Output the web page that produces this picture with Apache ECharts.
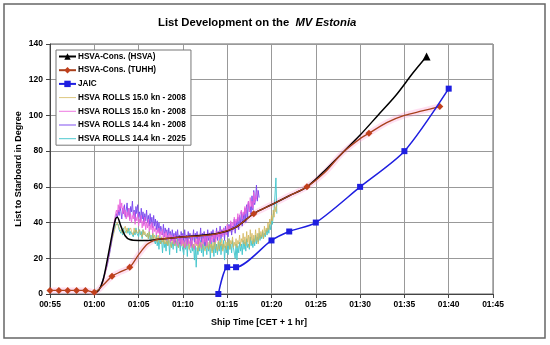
<!DOCTYPE html>
<html><head><meta charset="utf-8">
<script src="https://cdn.jsdelivr.net/npm/echarts@6/dist/echarts.min.js"></script>
<style>html,body{margin:0;padding:0;background:#fff}#c{width:550px;height:345px}</style>
</head><body><div id="c"></div>
<script>
// ---- tick labels (minutes after 00:00, CET + 1 hr) ----
const timeTicks = [55, 60, 65, 70, 75, 80, 85, 90, 95, 100, 105];
const timeTickLabels = ['00:55','01:00','01:05','01:10','01:15','01:20','01:25','01:30','01:35','01:40','01:45'];

// ---- HSVA-Cons. (HSVA) ----
const hsvaTime = [60.0, 60.5, 61.0, 61.5, 62.0, 62.4, 62.6, 63.0, 63.5, 64.0, 65.0, 66.0, 67.0, 70.0, 74.0, 76.0, 78.0, 80.0, 82.0, 84.0, 86.0, 88.0, 90.0, 92.0, 94.0, 96.0, 97.5];
const hsvaList = [0.5, 2, 8, 20, 33, 42, 43, 38, 32.5, 30.5, 30, 30, 30.5, 32, 34, 37.5, 45, 50, 55, 60, 69, 79, 89, 100, 111, 124, 133];
const hsvaMarked = [0,0,0,0,0,0,0,0,0,0,0,0,0,0,0,0,0,0,0,0,0,0,0,0,0,0,1];

// ---- HSVA-Cons. (TUHH) ----
const tuhhTime = [55, 56, 57, 58, 59, 60, 61, 62, 63, 64, 65, 66, 67, 68, 70, 72, 74, 76, 78, 80, 82, 84, 86, 88, 90, 91, 93, 95, 97, 99];
const tuhhList = [2, 2, 2, 2, 2, 1, 5, 10, 12.5, 15, 22, 28, 30.5, 31, 32, 32.5, 34, 37.5, 45, 50, 55, 60, 68, 79, 87, 90, 96, 100, 102.5, 105];
const tuhhMarked = [1,1,1,1,1,1,0,1,0,1,0,0,0,0,0,0,0,0,1,0,0,1,0,0,0,1,0,0,0,1];

// ---- JAIC ----
const jaicTime = [74, 75, 76, 80, 82, 85, 90, 95, 100];
const jaicList = [0, 15, 15, 30, 35, 40, 60, 80, 115];

// ---- HSVA ROLLS records (sampled every 0.1 min) ----
const rolls1Start = 60.0, rolls1Step = 0.1;   // 15.0 kn - 2008 (tan)
const rolls1List = [
  1,2,1,2,2,3,3,4,5,6, 7,9,11,13,15,17,20,22,25,27, 30,32,34,36,38,39,40,38,37,36,
  35,37,34,36,35,38,34,37,35,36, 34,37,35,36,33,37,34,36,35,34, 33,36,34,35,32,36,33,35,34,32,
  34,31,35,32,33,30,34,31,33,30, 32,29,33,30,31,28,32,29,31,28, 32,28,30,27,31,29,30,26,31,28,
  30,27,32,28,29,26,31,28,30,27, 31,27,29,26,30,28,31,25,29,27, 30,26,28,25,31,27,29,24,30,26,
  29,25,31,27,28,24,30,26,29,25, 30,26,28,23,29,25,31,27,28,24, 30,25,29,27,31,24,28,26,30,25,
  29,27,31,25,30,28,32,26,29,27, 31,26,30,28,33,27,31,29,34,28, 32,27,35,29,33,26,36,30,34,28,
  33,29,36,30,34,28,37,31,35,32, 36,31,38,33,37,35,40,36,42,39, 44,41,47,43,49,46,50];
const rolls2Start = 60.5, rolls2Step = 0.1;   // 15.0 kn - 2008 (pink)
const rolls2List = [
  2,2,3,4,6,7,9,11,13,16, 18,21,24,27,30,33,36,39,42,45, 47,44,50,46,53,48,51,45,49,44,
  47,42,46,43,48,41,45,40,44,42, 46,39,43,41,45,38,42,40,44,37, 41,38,43,36,40,37,42,35,39,36,
  40,34,38,35,37,33,36,34,37,32, 35,33,36,31,34,32,35,30,33,31, 34,29,33,30,32,28,33,30,31,27,
  32,29,31,27,33,28,30,26,31,29, 27,31,28,30,26,32,28,29,25,30, 28,31,27,32,29,30,26,31,28,33,
  29,32,27,31,30,33,28,32,29,34, 31,33,29,35,32,34,30,36,33,35, 32,37,34,36,33,39,35,38,36,41,
  37,40,38,43,39,42,40,45,41,44, 43,47,42,46,44,49,45,48,47,52, 46,54,49,52,48,57,51,55,53,58];
const rolls3Start = 60.3, rolls3Step = 0.1;   // 14.4 kn - 2008 (purple)
const rolls3List = [
  1,2,2,3,4,5,7,8,10,12, 13,15,17,20,22,25,28,31,34,37, 40,42,45,43,47,44,49,46,42,48,
  45,50,43,47,51,44,48,42,49,46, 52,44,47,41,49,45,50,43,46,40, 48,42,46,39,45,41,47,40,44,38,
  45,39,43,37,44,38,42,36,41,35, 40,34,38,36,33,39,32,37,34,36, 31,37,33,35,30,36,32,34,29,35,
  31,36,30,33,28,35,31,34,29,36, 30,33,28,35,31,34,27,33,30,36, 29,34,31,35,28,33,30,37,29,34,
  31,35,27,33,29,36,30,34,28,35, 32,36,29,34,31,37,30,35,32,38, 31,36,33,37,30,38,34,36,32,39,
  35,40,33,38,36,42,34,41,37,43, 36,44,39,46,38,45,41,48,40,50, 43,52,46,49,44,55,47,58,50,53,
  61,52,58,54];
const rolls4Start = 60.0, rolls4Step = 0.1;   // 14.4 kn - 2025 (cyan)
const rolls4List = [
  2,1,2,2,3,2,3,4,5,6, 8,10,12,14,16,18,21,23,26,28, 31,33,35,37,39,40,38,39,36,37,
  34,36,33,37,34,35,33,36,34,37, 33,35,34,36,32,35,33,37,34,35, 32,36,33,35,31,36,34,33,35,32,
  34,31,35,30,33,29,34,31,32,28, 33,27,31,25,32,28,30,23,31,26, 29,24,32,27,30,22,31,26,29,25,
  32,27,30,23,31,26,29,24,32,27, 28,22,30,25,29,21,31,26,27,23, 30,24,28,19,27,15,26,22,29,24,
  30,23,28,21,31,25,27,22,29,24, 28,20,30,24,27,21,31,23,28,22, 29,24,31,22,28,25,30,19,27,23,
  29,22,31,25,28,23,30,26,27,20, 28,19,27,23,29,24,28,22,30,25, 29,24,31,26,28,25,32,27,30,26,
  31,27,33,28,32,29,34,30,33,31, 35,31,34,32,36,33,37,34,39,36, 41,39,44,48,56,65,45];

function pairs(t, v, marked, sym) {
  return t.map((x, i) => marked ? { value: [x, v[i]], symbol: marked[i] ? sym : 'none' } : [x, v[i]]);
}
function sampled(start, step, v) {
  return v.map((y, i) => [+(start + i * step).toFixed(2), y]);
}

const chart = echarts.init(document.getElementById('c'), null, { renderer: 'canvas' });
const FONT = 'Liberation Sans, Arial, sans-serif';
const rollsLine = (name, color, start, step, list, z, op) => ({
  name, type: 'line', symbol: 'none', z, data: sampled(start, step, list),
  lineStyle: { color, width: 1, opacity: op }, itemStyle: { color }, animation: false
});
const rollsLegend = name => ({ name, itemStyle: { opacity: 0 }, lineStyle: { width: 1 } });

chart.setOption({
  backgroundColor: '#fff',
  animation: false,
  title: {
    text: '{a|List Development on the  }{b|MV Estonia}',
    left: 153, top: 12,
    textStyle: { rich: {
      a: { fontFamily: FONT, fontSize: 11.3, fontWeight: 'bold', color: '#000' },
      b: { fontFamily: FONT, fontSize: 11.3, fontWeight: 'bold', fontStyle: 'italic', color: '#000' }
    } }
  },
  graphic: [{ type: 'rect', shape: { x: 4, y: 4, width: 541, height: 334 }, style: { fill: 'none', stroke: '#666', lineWidth: 1.5 }, silent: true, z: -1 }],
  legend: {
    orient: 'vertical', left: 56, top: 50, padding: [0, 3, 0, 2],
    backgroundColor: '#fff', borderColor: '#777', borderWidth: 1,
    itemWidth: 17, itemHeight: 8, itemGap: 0.7,
    textStyle: { fontFamily: FONT, fontSize: 8.2, fontWeight: 'bold', color: '#000', lineHeight: 13, padding: [0,0,0,-3] },
    data: ['HSVA-Cons. (HSVA)', 'HSVA-Cons. (TUHH)', 'JAIC',
      rollsLegend('HSVA ROLLS 15.0 kn - 2008'), rollsLegend('HSVA ROLLS 15.0 kn - 2008 '),
      rollsLegend('HSVA ROLLS 14.4 kn - 2008'), rollsLegend('HSVA ROLLS 14.4 kn - 2025')]
  },
  grid: { left: 50, right: 57, top: 44, bottom: 51, show: true, borderColor: '#666', borderWidth: 1 },
  xAxis: {
    type: 'value', min: 55, max: 105, interval: 5,
    name: 'Ship Time [CET + 1 hr]', nameLocation: 'middle', nameGap: 24,
    nameTextStyle: { fontFamily: FONT, fontSize: 9, fontWeight: 'bold', color: '#000', padding: [0, 25, 0, 0] },
    axisLine: { lineStyle: { color: '#444', width: 1 } },
    axisTick: { show: true, length: 4, lineStyle: { color: '#444' } },
    axisLabel: { fontFamily: FONT, fontSize: 8.5, fontWeight: 'bold', color: '#000', margin: 6,
      formatter: v => timeTickLabels[timeTicks.indexOf(Math.round(v))] },
    splitLine: { lineStyle: { color: '#999', width: 1 } }
  },
  yAxis: {
    type: 'value', min: 0, max: 140, interval: 20,
    name: 'List to Starboard in Degree', nameLocation: 'middle', nameGap: 27, nameRotate: 90,
    nameMoveOverlap: false,
    nameTextStyle: { fontFamily: FONT, fontSize: 9, fontWeight: 'bold', color: '#000' },
    axisLine: { show: true, lineStyle: { color: '#444', width: 1 } },
    axisTick: { show: true, length: 4, lineStyle: { color: '#444' } },
    axisLabel: { fontFamily: FONT, fontSize: 8.5, fontWeight: 'bold', color: '#000', margin: 7 },
    splitLine: { lineStyle: { color: '#999', width: 1 } }
  },
  series: [
    { name: 'glow', type: 'line', symbol: 'none', smooth: 0.3, z: 1, silent: true,
      data: pairs(tuhhTime, tuhhList), lineStyle: { color: 'rgba(255,150,210,0.3)', width: 6 } },
    rollsLine('HSVA ROLLS 14.4 kn - 2025', '#46c6cc', rolls4Start, rolls4Step, rolls4List, 2, 0.95),
    rollsLine('HSVA ROLLS 15.0 kn - 2008', '#d2b454', rolls1Start, rolls1Step, rolls1List, 3, 0.75),
    rollsLine('HSVA ROLLS 14.4 kn - 2008', '#7a48ee', rolls3Start, rolls3Step, rolls3List, 4, 0.95),
    rollsLine('HSVA ROLLS 15.0 kn - 2008 ', '#ea62dc', rolls2Start, rolls2Step, rolls2List, 5, 0.85),
    { name: 'HSVA-Cons. (HSVA)', type: 'line', smooth: 0.3, z: 6, symbol: 'triangle', symbolSize: 8, showSymbol: true, showAllSymbol: true,
      data: pairs(hsvaTime, hsvaList, hsvaMarked, 'triangle'),
      lineStyle: { color: '#000', width: 1.5 }, itemStyle: { color: '#000' } },
    { name: 'HSVA-Cons. (TUHH)', type: 'line', smooth: 0.3, z: 7, symbol: 'diamond', symbolSize: 7, showSymbol: true, showAllSymbol: true,
      data: pairs(tuhhTime, tuhhList, tuhhMarked, 'diamond'),
      lineStyle: { color: '#a8401c', width: 1.3 }, itemStyle: { color: '#c0401c' } },
    { name: 'JAIC', type: 'line', smooth: 0.25, z: 8, symbol: 'rect', symbolSize: 6, showSymbol: true, showAllSymbol: true,
      data: pairs(jaicTime, jaicList),
      lineStyle: { color: '#1e1ee0', width: 1.5 }, itemStyle: { color: '#1e1ee0' } }
  ]
});
</script></body></html>
